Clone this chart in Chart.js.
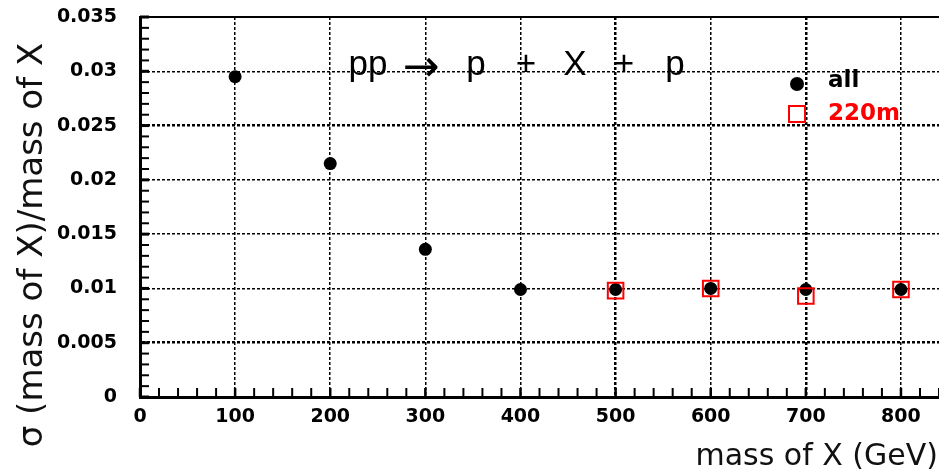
<!DOCTYPE html>
<html>
<head>
<meta charset="utf-8">
<script src="https://cdn.jsdelivr.net/npm/chart.js@4.4.1/dist/chart.umd.min.js"></script>
<style>
html,body{margin:0;padding:0;background:#fff;overflow:hidden;}
#wrap{width:939px;height:473px;position:relative;}
</style>
</head>
<body>
<div id="wrap"><canvas id="c" width="939" height="473"></canvas></div>
<script>
// ---- data ----
const massAll = [100, 200, 300, 400, 500, 600, 700, 800];
const sigmaAll = [0.0295, 0.0215, 0.0136, 0.0099, 0.0099, 0.0100, 0.0099, 0.0099];
const mass220 = [500, 600, 700, 800];
const sigma220 = [0.0098, 0.0100, 0.0093, 0.0099];
const seriesLabels = ['all', '220m'];
const xTicks = [0, 100, 200, 300, 400, 500, 600, 700, 800];
const xTickLabels = ['0', '100', '200', '300', '400', '500', '600', '700', '800'];
const yTicks = [0, 0.005, 0.01, 0.015, 0.02, 0.025, 0.03, 0.035];
const yTickLabels = ['0', '0.005', '0.01', '0.015', '0.02', '0.025', '0.03', '0.035'];
const titlePieces = ['pp', '\u2192', 'p', '+', 'X', '+', 'p'];
const xTitle = 'mass of X (GeV)';
const yTitle = '\u03C3 (mass of X)/mass of X';

function labelFor(ticks, labels, v) {
  const i = ticks.findIndex(t => Math.abs(t - v) < 1e-9);
  return i >= 0 ? labels[i] : '';
}
const toPts = (xs, ys) => xs.map((x, i) => ({x: x, y: ys[i]}));

const decorPlugin = {
  id: 'decor',
  afterDraw(chart) {
    const ctx = chart.ctx;
    const xs = chart.scales.x, ys = chart.scales.y;
    const a = chart.chartArea;
    ctx.save();
    // top frame line
    ctx.strokeStyle = '#000';
    ctx.lineWidth = 2;
    ctx.beginPath();
    ctx.moveTo(a.left, a.top);
    ctx.lineTo(a.right + 2, a.top);
    ctx.stroke();
    // minor/major ticks pointing inward
    for (let v = 0; v <= 840; v += 20) {
      const px = xs.getPixelForValue(v);
      if (px > a.right) break;
      ctx.lineWidth = (v % 100 === 0) ? 2.5 : 2;
      ctx.beginPath();
      ctx.moveTo(px, a.bottom);
      ctx.lineTo(px, a.bottom - 9);
      ctx.stroke();
    }
    for (let k = 0; k <= 35; k++) {
      const py = ys.getPixelForValue(k * 0.001);
      ctx.lineWidth = (k % 5 === 0) ? 3 : 2;
      ctx.beginPath();
      ctx.moveTo(a.left, py);
      ctx.lineTo(a.left + 9, py);
      ctx.stroke();
    }
    // title
    ctx.fillStyle = '#000';
    ctx.textAlign = 'center';
    ctx.textBaseline = 'alphabetic';
    const cx = [368, 421, 476, 526, 575, 624, 675];
    titlePieces.forEach((t, i) => {
      if (t === '\u2192') {
        ctx.font = '44px "DejaVu Sans", sans-serif';
        ctx.fillText(t, cx[i], 81);
      } else {
        ctx.font = '35px "Liberation Sans", Arial, sans-serif';
        ctx.fillText(t, cx[i], 75);
      }
    });
    // legend
    ctx.beginPath();
    ctx.arc(797, 84, 7, 0, Math.PI * 2);
    ctx.fillStyle = '#000';
    ctx.fill();
    ctx.strokeStyle = '#ff0000';
    ctx.lineWidth = 2;
    ctx.strokeRect(789, 106, 16, 16);
    ctx.font = 'bold 23px "DejaVu Sans", sans-serif';
    ctx.textAlign = 'left';
    ctx.textBaseline = 'middle';
    ctx.fillStyle = '#000';
    ctx.fillText(seriesLabels[0], 828, 81);
    ctx.fillStyle = '#ff0000';
    ctx.fillText(seriesLabels[1], 828, 114);
    // axis titles
    ctx.fillStyle = '#111';
    ctx.font = '30px "DejaVu Sans", sans-serif';
    ctx.textAlign = 'right';
    ctx.textBaseline = 'alphabetic';
    ctx.fillText(xTitle, 938, 465);
    ctx.save();
    ctx.translate(42, 245);
    ctx.rotate(-Math.PI / 2);
    ctx.textAlign = 'center';
    ctx.font = '34px "DejaVu Sans", sans-serif';
    ctx.fillText(yTitle, 0, 0);
    ctx.restore();
    ctx.restore();
  }
};

const thickX = [500, 700];
const thickY = [0.005, 0.025];

new Chart(document.getElementById('c'), {
  type: 'scatter',
  data: {
    datasets: [
      {
        label: seriesLabels[0],
        data: toPts(massAll, sigmaAll),
        pointStyle: 'circle',
        pointRadius: 6.5,
        pointHoverRadius: 6.5,
        backgroundColor: '#000',
        borderColor: '#000',
        borderWidth: 0,
        order: 1
      },
      {
        label: seriesLabels[1],
        data: toPts(mass220, sigma220),
        pointStyle: 'rect',
        pointRadius: 11,
        pointHoverRadius: 11,
        backgroundColor: 'rgba(0,0,0,0)',
        borderColor: '#ff0000',
        borderWidth: 2,
        order: 0
      }
    ]
  },
  options: {
    responsive: false,
    animation: false,
    events: [],
    layout: {autoPadding: false, padding: {top: 17, right: 0, left: 0, bottom: 0}},
    plugins: {legend: {display: false}, tooltip: {enabled: false}, title: {display: false}},
    scales: {
      x: {
        type: 'linear',
        min: 0,
        max: 840,
        afterFit(s) { s.height = 76; s.paddingLeft = 0; s.paddingRight = 0; },
        ticks: {
          stepSize: 100,
          includeBounds: false,
          maxRotation: 0,
          autoSkip: false,
          padding: 9,
          color: '#000',
          font: {family: '"DejaVu Sans", sans-serif', size: 19, weight: 'bold'},
          callback: v => labelFor(xTicks, xTickLabels, v)
        },
        grid: {
          color: '#000',
          drawTicks: false,
          lineWidth: c => (c.tick && thickX.includes(c.tick.value)) ? 2.5 : 1.5
        },
        border: {display: true, color: '#000', width: 3, dash: [3, 2]}
      },
      y: {
        type: 'linear',
        min: 0,
        max: 0.035,
        afterFit(s) { s.width = 140; s.paddingTop = 0; s.paddingBottom = 0; },
        ticks: {
          stepSize: 0.005,
          padding: 23,
          color: '#000',
          font: {family: '"DejaVu Sans", sans-serif', size: 19, weight: 'bold'},
          callback: v => labelFor(yTicks, yTickLabels, v)
        },
        grid: {
          color: '#000',
          drawTicks: false,
          lineWidth: c => (c.tick && thickY.some(t => Math.abs(t - c.tick.value) < 1e-9)) ? 2.5 : 1.5
        },
        border: {display: true, color: '#000', width: 3, dash: [3, 2]}
      }
    }
  },
  plugins: [decorPlugin]
});
</script>
</body>
</html>
